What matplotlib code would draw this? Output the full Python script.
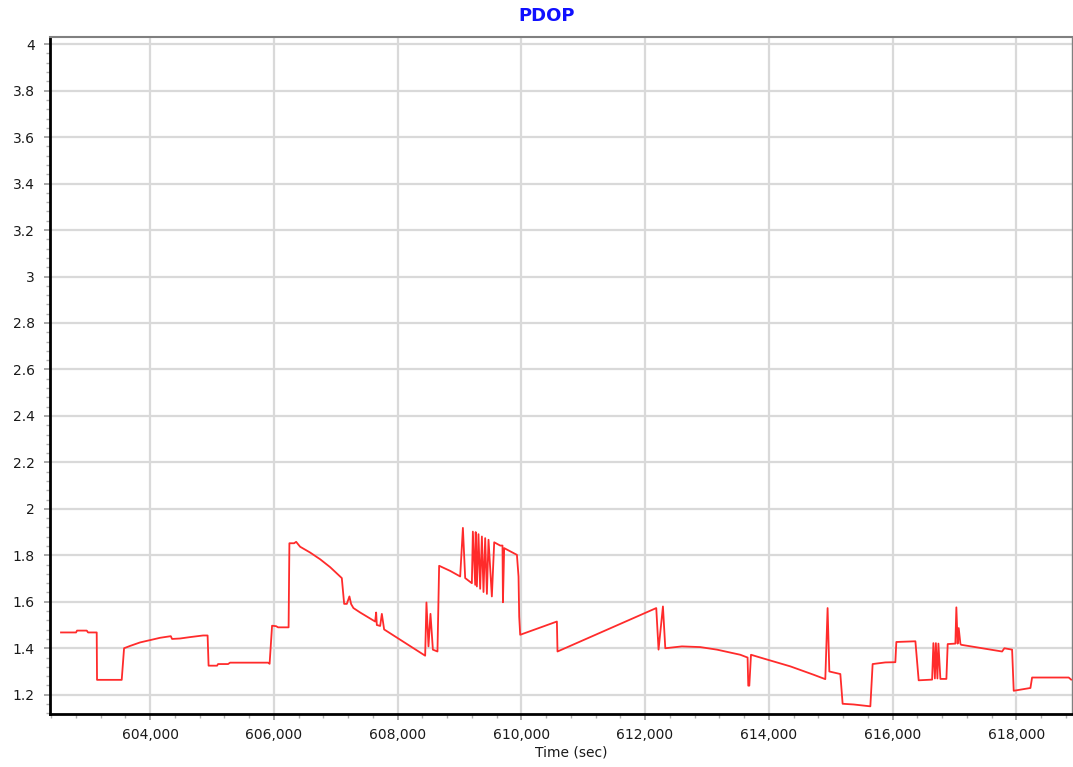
import matplotlib
matplotlib.use("Agg")
import matplotlib.pyplot as plt
from matplotlib.ticker import MultipleLocator, FuncFormatter

# ---- data ----
time_sec = [
    602561, 602804, 602820, 602977, 602998, 603138, 603143, 603542, 603580,
    603677, 603838, 604000, 604162, 604335, 604356, 604485, 604647, 604857,
    604930, 604946, 605083, 605099, 605261, 605293, 605908, 605932, 605972,
    606037, 606069, 606239, 606252, 606328, 606361, 606425, 606587, 606749,
    606911, 607099, 607137, 607180, 607222, 607250, 607287, 607395, 607638,
    607654, 607665, 607719, 607746, 607783, 608446, 608467, 608500, 608532,
    608571, 608645, 608672, 608850, 609012, 609056, 609093, 609201, 609217,
    609255, 609263, 609282, 609308, 609335, 609363, 609389, 609416, 609444,
    609470, 609524, 609562, 609659, 609696, 609703, 609723, 609929, 609955,
    609966, 609982, 610575, 610585, 612181, 612218, 612289, 612327, 612596,
    612892, 613163, 613539, 613657, 613668, 613685, 613712, 613862, 614348,
    614724, 614913, 614950, 614978, 615156, 615193, 615371, 615641, 615678,
    615883, 616045, 616061, 616369, 616422, 616639, 616660, 616684, 616700,
    616725, 616741, 616773, 616870, 616891, 617015, 617031, 617052, 617069,
    617096, 617107, 617770, 617807, 617932, 617958, 618228, 618255, 618847,
    618886,
]
pdop = [
    1.468, 1.468, 1.476, 1.476, 1.468, 1.468, 1.264, 1.264, 1.400,
    1.410, 1.425, 1.435, 1.445, 1.452, 1.440, 1.442, 1.448, 1.455,
    1.455, 1.325, 1.325, 1.332, 1.332, 1.338, 1.338, 1.333, 1.497,
    1.495, 1.490, 1.490, 1.852, 1.852, 1.858, 1.837, 1.812, 1.783,
    1.749, 1.702, 1.591, 1.591, 1.623, 1.590, 1.573, 1.554, 1.515,
    1.554, 1.500, 1.496, 1.548, 1.481, 1.368, 1.597, 1.408, 1.548,
    1.394, 1.386, 1.755, 1.733, 1.709, 1.918, 1.702, 1.680, 1.902,
    1.673, 1.900, 1.666, 1.891, 1.656, 1.881, 1.642, 1.874, 1.634,
    1.867, 1.623, 1.856, 1.842, 1.842, 1.598, 1.831, 1.802, 1.709,
    1.536, 1.458, 1.515, 1.386, 1.573, 1.394, 1.580, 1.400, 1.408,
    1.405, 1.394, 1.372, 1.360, 1.239, 1.239, 1.372, 1.360, 1.322,
    1.286, 1.267, 1.573, 1.300, 1.289, 1.161, 1.158, 1.150, 1.332,
    1.339, 1.340, 1.427, 1.430, 1.262, 1.265, 1.422, 1.270, 1.422,
    1.270, 1.420, 1.268, 1.268, 1.418, 1.420, 1.576, 1.420, 1.487,
    1.420, 1.415, 1.386, 1.400, 1.394, 1.217, 1.229, 1.274, 1.274,
    1.265,
]
title_text = "PDOP"
x_label = "Time (sec)"

W, H = 1073, 767
fig = plt.figure(figsize=(W / 100, H / 100), dpi=100)
ax = fig.add_axes([50 / W, 1 - 714 / H, (1072 - 50) / W, (714 - 37) / H])

ax.plot(time_sec, pdop, color="#ff2b2b", lw=1.3, zorder=3)

ax.set_xlim(602383, 618900)
ax.set_ylim(1.117, 4.031)

ax.xaxis.set_major_locator(MultipleLocator(2000))
ax.xaxis.set_minor_locator(MultipleLocator(400))
ax.yaxis.set_major_locator(MultipleLocator(0.2))
ax.yaxis.set_minor_locator(MultipleLocator(0.04))
ax.xaxis.set_major_formatter(FuncFormatter(lambda v, p: f"{v:,.0f}"))
ax.yaxis.set_major_formatter(FuncFormatter(lambda v, p: f"{v:g}" if v >= 1.19 else ""))

ax.grid(True, which="major", color="#d9d9d9", lw=1.6, zorder=0)
ax.set_axisbelow(True)

for s in ["left", "bottom"]:
    ax.spines[s].set_color("black")
    ax.spines[s].set_linewidth(2.0)
ax.spines["top"].set_color("#808080")
ax.spines["top"].set_linewidth(1.5)
ax.spines["right"].set_color("#808080")
ax.spines["right"].set_linewidth(1.0)

ax.tick_params(which="major", direction="out", length=4, width=1.2,
               color="#9a9a9a", labelsize=10, labelcolor="#1a1a1a", pad=6)
ax.tick_params(which="minor", direction="out", length=3, width=1.0,
               color="#b0b0b0")
ax.tick_params(axis="y", which="major", pad=7)

fig.text(547 / W, 1 - 16 / H, title_text, ha="center", va="center",
         fontsize=13, fontweight="bold", color="#1010ff")
fig.text(571 / W, 1 - 753 / H, x_label, ha="center", va="center",
         fontsize=10, color="#1a1a1a")

fig.savefig("out.png", dpi=100)
